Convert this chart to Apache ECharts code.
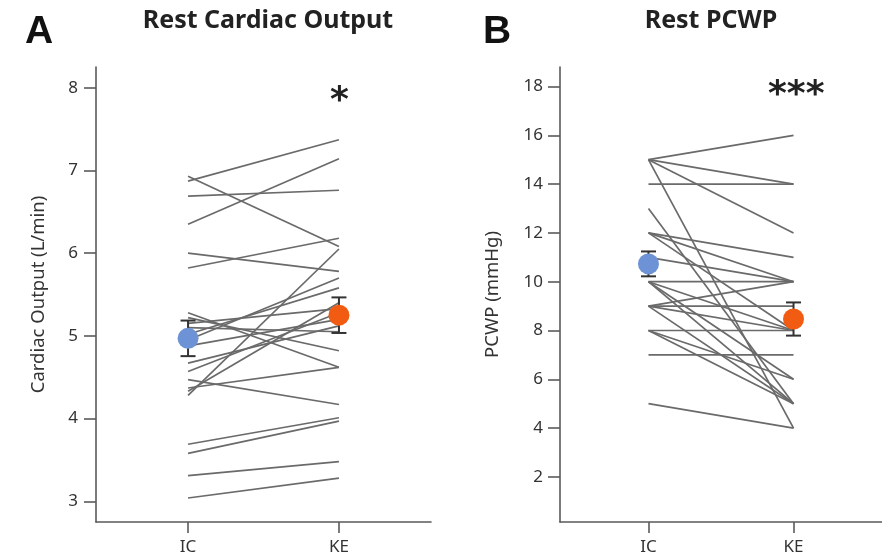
<!DOCTYPE html>
<html>
<head>
<meta charset="utf-8">
<script src="https://cdn.jsdelivr.net/npm/echarts@6/dist/echarts.min.js"></script>
<style>
  html, body { margin: 0; padding: 0; background: #fff; }
  #chart { width: 882px; height: 558px; }
</style>
</head>
<body>
<div id="chart"></div>
<script>
// categories on the x axis
const cats = ['IC', 'KE']

// panel A: rest cardiac output (L/min), one pair per subject
const coIC = [6.87, 6.93, 6.69, 6.35, 6.00, 5.82, 5.28, 5.22, 5.15, 5.10, 5.02, 4.95, 4.88, 4.67, 4.57, 4.47, 4.37, 4.28, 4.33, 3.69, 3.58, 3.31, 3.04]
const coKE = [7.37, 6.08, 6.76, 7.14, 5.78, 6.18, 4.62, 4.82, 5.33, 5.05, 5.58, 5.70, 5.20, 5.12, 5.28, 4.17, 4.62, 6.05, 5.40, 4.01, 3.97, 3.48, 3.28]
const coMean = [4.97, 5.25]
const coSE = [0.215, 0.215]
const coTicks = [3, 4, 5, 6, 7, 8]

// panel B: rest PCWP (mmHg)
const pcwpIC = [15, 15, 15, 15, 14, 13, 12, 12, 12, 11, 10, 10, 10, 10, 9, 9, 9, 9, 8, 8, 8, 7, 5]
const pcwpKE = [16, 14, 12, 4, 14, 5, 11, 10, 8, 10, 10, 8, 5, 6, 10, 9, 8, 5, 8, 6, 5, 7, 4]
const pcwpMean = [10.73, 8.47]
const pcwpSE = [0.51, 0.68]
const pcwpTicks = [2, 4, 6, 8, 10, 12, 14, 16, 18]

const FONT = 'Noto Sans'
const AXIS_COLOR = '#5a5a5a'
const meanColors = ['#6d93d6', '#f25c12']

const chart = echarts.init(document.getElementById('chart'))

const pairSeries = (ic, ke, idx) => ic.map((v, i) => ({
  type: 'line',
  xAxisIndex: idx,
  yAxisIndex: idx,
  data: [[0, v], [1, ke[i]]],
  symbol: 'none',
  silent: true,
  z: 2,
  lineStyle: { color: '#6a6a6a', width: 1.7 }
}))

const errorSeries = (mean, se, idx) => ({
  type: 'custom',
  xAxisIndex: idx,
  yAxisIndex: idx,
  z: 3,
  silent: true,
  data: mean.map((m, i) => [i, m - se[i], m + se[i]]),
  renderItem: (params, api) => {
    const lo = api.coord([api.value(0), api.value(1)])
    const hi = api.coord([api.value(0), api.value(2)])
    const w = 7.5
    const style = { stroke: '#333', lineWidth: 2 }
    return {
      type: 'group',
      children: [
        { type: 'line', shape: { x1: lo[0], y1: lo[1], x2: hi[0], y2: hi[1] }, style },
        { type: 'line', shape: { x1: lo[0] - w, y1: lo[1], x2: lo[0] + w, y2: lo[1] }, style },
        { type: 'line', shape: { x1: hi[0] - w, y1: hi[1], x2: hi[0] + w, y2: hi[1] }, style }
      ]
    }
  }
})

const meanSeries = (mean, idx) => ({
  type: 'scatter',
  xAxisIndex: idx,
  yAxisIndex: idx,
  z: 4,
  symbolSize: 21,
  silent: true,
  data: mean.map((m, i) => ({ value: [i, m], itemStyle: { color: meanColors[i], opacity: 1 } }))
})

const xAxisOf = (gridIndex) => ({
  type: 'value',
  gridIndex,
  min: -0.61,
  max: 1.61,
  axisLine: { onZero: false, lineStyle: { color: AXIS_COLOR, width: 1.6 } },
  axisTick: { customValues: [0, 1], length: 11, lineStyle: { color: AXIS_COLOR, width: 1.6 } },
  axisLabel: {
    customValues: [0, 1],
    formatter: v => cats[v],
    color: '#333', fontSize: 17, fontFamily: FONT, margin: 17
  },
  splitLine: { show: false }
})

const yAxisOf = (gridIndex, min, max, ticks, name, gap, lblMargin) => ({
  type: 'value',
  gridIndex,
  min, max,
  name,
  nameLocation: 'middle',
  nameGap: gap,
  nameTextStyle: { color: '#333', fontSize: 18.5, fontFamily: FONT },
  axisLine: { show: true, onZero: false, lineStyle: { color: AXIS_COLOR, width: 1.6 } },
  axisTick: { show: true, customValues: ticks, length: 12, lineStyle: { color: AXIS_COLOR, width: 1.6 } },
  axisLabel: { customValues: ticks, color: '#333', fontSize: 17, fontFamily: FONT, margin: lblMargin },
  splitLine: { show: false }
})

const option = {
  backgroundColor: '#fff',
  animation: false,
  title: [
    { text: 'A', left: 20, top: 8, textStyle: { fontFamily: 'Liberation Sans', fontWeight: 'bold', fontSize: 39, color: '#111' } },
    { text: 'Rest Cardiac Output', left: 263, top: 3, textAlign: 'center', textStyle: { fontFamily: FONT, fontWeight: 'bold', fontSize: 25, color: '#222' } },
    { text: 'B', left: 478, top: 8, textStyle: { fontFamily: 'Liberation Sans', fontWeight: 'bold', fontSize: 39, color: '#111' } },
    { text: 'Rest PCWP', left: 706, top: 3, textAlign: 'center', textStyle: { fontFamily: FONT, fontWeight: 'bold', fontSize: 25, color: '#222' } }
  ],
  graphic: [
    { type: 'text', left: 330, top: 84, style: { text: '*', fontSize: 36, fontFamily: 'DejaVu Sans', fontWeight: 'bold', fill: '#222' } },
    { type: 'text', left: 768, top: 78, style: { text: '***', fontSize: 36, fontFamily: 'DejaVu Sans', fontWeight: 'bold', fill: '#222' } }
  ],
  grid: [
    { left: 96, right: 451, top: 67, bottom: 36 },
    { left: 560, right: -4, top: 67, bottom: 36 }
  ],
  xAxis: [xAxisOf(0), xAxisOf(1)],
  yAxis: [
    yAxisOf(0, 2.75, 8.25, coTicks, 'Cardiac Output (L/min)', 48, 18),
    yAxisOf(1, 0.15, 18.8, pcwpTicks, 'PCWP (mmHg)', 58, 17)
  ],
  series: [
    ...pairSeries(coIC, coKE, 0),
    ...pairSeries(pcwpIC, pcwpKE, 1),
    errorSeries(coMean, coSE, 0),
    errorSeries(pcwpMean, pcwpSE, 1),
    meanSeries(coMean, 0),
    meanSeries(pcwpMean, 1)
  ]
}

chart.setOption(option)
</script>
</body>
</html>
